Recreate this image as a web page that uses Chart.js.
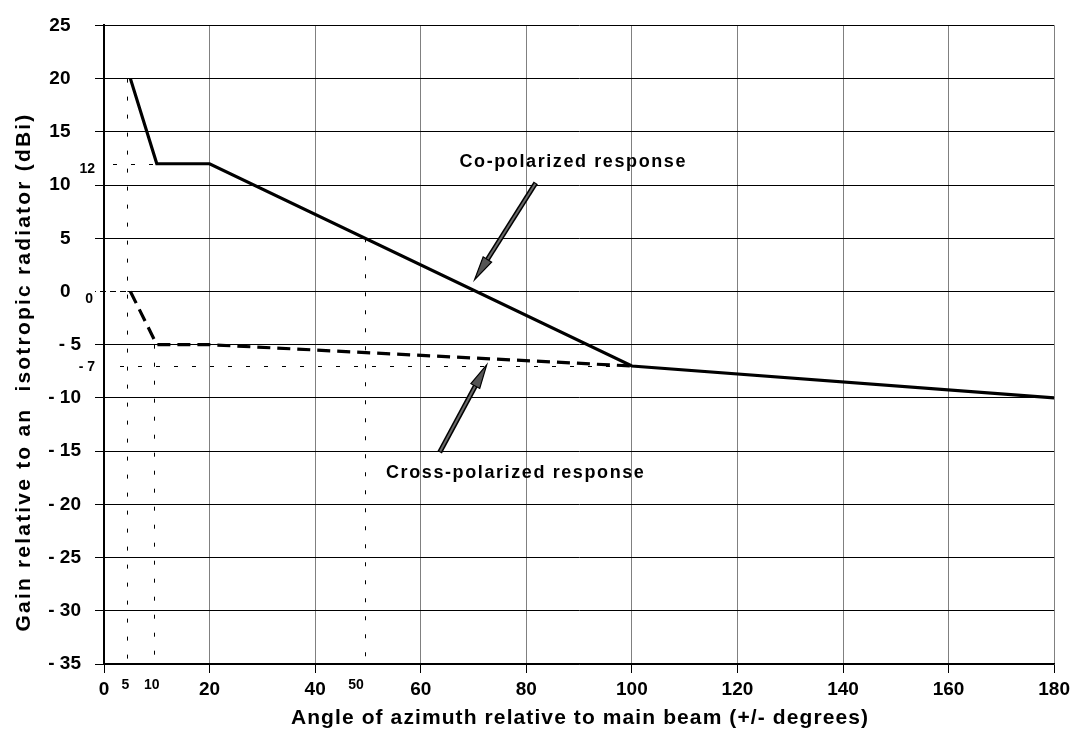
<!DOCTYPE html>
<html>
<head>
<meta charset="utf-8">
<script src="https://cdn.jsdelivr.net/npm/chart.js@4.4.1/dist/chart.umd.min.js"></script>
<style>
html,body{margin:0;padding:0;background:#fff;}
#wrap{width:1075px;height:740px;position:relative;}
</style>
</head>
<body>
<div id="wrap"><canvas id="c" width="1075" height="740"></canvas></div>
<script>
// ---- data ----
const coAngles = [5, 10, 20, 100, 180];
const coGain = [20, 12, 12, -7, -10];
const crossAngles = [5, 10, 20, 100];
const crossGain = [0, -5, -5, -7];
const xTickValues = [0, 20, 40, 60, 80, 100, 120, 140, 160, 180];
const yTickValues = [25, 20, 15, 10, 5, 0, -5, -10, -15, -20, -25, -30, -35];
const refAngleLabels = [5, 10, 50];
const refGainLabels = [12, 0, -7];
const xTitle = 'Angle of azimuth relative to main beam (+/- degrees)';
const yTitle = 'Gain relative to an  isotropic radiator (dBi)';
const coLabel = 'Co-polarized response';
const crossLabel = 'Cross-polarized response';

const FONT = '"Liberation Sans", Arial, sans-serif';

const toPts = (xs, ys) => xs.map((x, i) => ({x: x, y: ys[i]}));

const annot = {
  id: 'annot',
  beforeDatasetsDraw(chart) {
    const ctx = chart.ctx, xs = chart.scales.x, ys = chart.scales.y;
    const X = v => xs.getPixelForValue(v), Y = v => ys.getPixelForValue(v);
    ctx.save();
    ctx.strokeStyle = '#000';
    ctx.lineWidth = 1;
    ctx.setLineDash([4, 14]);
    // vertical reference lines
    const vref = [[5, 20], [10, -5], [50, 5]];
    vref.forEach(([a, g]) => {
      ctx.beginPath();
      ctx.moveTo(Math.round(X(a)) - 2.5, Y(g));
      ctx.lineTo(Math.round(X(a)) - 2.5, Y(-35));
      ctx.stroke();
    });
    // horizontal reference lines
    ctx.beginPath(); ctx.moveTo(X(0) + 9, Math.round(Y(12)) + 0.5); ctx.lineTo(X(10), Math.round(Y(12)) + 0.5); ctx.stroke();
    ctx.beginPath(); ctx.moveTo(X(0) + 16, Math.round(Y(-7)) + 0.5); ctx.lineTo(X(100), Math.round(Y(-7)) + 0.5); ctx.stroke();
    // white dashes on zero line
    ctx.strokeStyle = '#fff';
    ctx.lineWidth = 2;
    ctx.setLineDash([4, 6]);
    ctx.beginPath(); ctx.moveTo(X(0) - 8, Math.round(Y(0)) + 0.5); ctx.lineTo(X(5) - 3, Math.round(Y(0)) + 0.5); ctx.stroke();
    ctx.restore();
  },
  afterDraw(chart) {
    const ctx = chart.ctx, xs = chart.scales.x, ys = chart.scales.y;
    const X = v => xs.getPixelForValue(v), Y = v => ys.getPixelForValue(v);
    const ca = chart.chartArea;
    ctx.save();
    ctx.fillStyle = '#000';
    // small reference labels
    ctx.font = 'bold 14px ' + FONT;
    ctx.textAlign = 'center';
    ctx.textBaseline = 'middle';
    refAngleLabels.forEach(a => {
      ctx.fillText(String(a), X(a) - (a === 50 ? 12 : 5), ca.bottom + 21);
    });
    const yOff = {12: 5, 0: 8, '-7': 1};
    ctx.textAlign = 'right';
    refGainLabels.forEach(g => {
      const t = g < 0 ? '- ' + (-g) : String(g);
      ctx.fillText(t, X(0) - (g === 0 ? 11 : 9), Y(g) + yOff[g]);
    });

    // arrows
    function arrow(x1, y1, x2, y2) {
      const ang = Math.atan2(y2 - y1, x2 - x1);
      const hl = 24, hw = 5;
      const bx = x2 - hl * Math.cos(ang), by = y2 - hl * Math.sin(ang);
      ctx.setLineDash([]);
      ctx.lineCap = 'butt';
      ctx.strokeStyle = '#000';
      ctx.lineWidth = 5;
      ctx.beginPath(); ctx.moveTo(x1, y1); ctx.lineTo(bx, by); ctx.stroke();
      ctx.strokeStyle = '#6a6a6a';
      ctx.lineWidth = 2;
      ctx.beginPath(); ctx.moveTo(x1 + Math.cos(ang), y1 + Math.sin(ang)); ctx.lineTo(bx, by); ctx.stroke();
      const px = -Math.sin(ang), py = Math.cos(ang);
      ctx.beginPath();
      ctx.moveTo(x2, y2);
      ctx.lineTo(bx + px * hw, by + py * hw);
      ctx.lineTo(bx - px * hw, by - py * hw);
      ctx.closePath();
      ctx.fillStyle = '#555';
      ctx.fill();
      ctx.lineWidth = 1.2;
      ctx.strokeStyle = '#000';
      ctx.stroke();
    }
    arrow(X(81.8), Y(10.2), X(70.2), Y(1.1));
    arrow(X(63.6), Y(-15.1), X(72.5), Y(-6.9));

    // response labels
    ctx.fillStyle = '#000';
    ctx.font = 'bold 18px ' + FONT;
    ctx.letterSpacing = '1.6px';
    ctx.textAlign = 'center';
    ctx.textBaseline = 'middle';
    ctx.fillText(coLabel, X(88.9), Y(12.2));
    ctx.fillText(crossLabel, X(78.0), Y(-17.1));

    // axis titles
    ctx.font = 'bold 21px ' + FONT;
    ctx.letterSpacing = '1.1px';
    ctx.fillText(xTitle, 580, 718);
    ctx.save();
    ctx.letterSpacing = '2.2px';
    ctx.translate(24, 372);
    ctx.rotate(-Math.PI / 2);
    ctx.fillText(yTitle, 0, 0);
    ctx.restore();
    ctx.restore();
  }
};

new Chart(document.getElementById('c'), {
  type: 'line',
  data: {
    datasets: [
      {
        label: coLabel,
        data: toPts(coAngles, coGain),
        borderColor: '#000',
        borderWidth: 3.2,
        pointRadius: 0,
        fill: false,
        tension: 0
      },
      {
        label: crossLabel,
        data: toPts(crossAngles, crossGain),
        borderColor: '#000',
        borderWidth: 3.2,
        borderDash: [13, 7],
        pointRadius: 0,
        fill: false,
        tension: 0
      }
    ]
  },
  options: {
    responsive: false,
    animation: false,
    devicePixelRatio: 1,
    layout: {padding: {top: 18, right: 18, left: 0, bottom: 0}},
    plugins: {legend: {display: false}, tooltip: {enabled: false}},
    scales: {
      x: {
        type: 'linear',
        min: 0, max: 180,
        afterBuildTicks: s => { s.ticks = xTickValues.map(v => ({value: v})); },
        afterFit: s => { s.height = 76; },
        grid: {color: '#808080', lineWidth: 1, tickLength: 9, tickColor: '#000'},
        border: {color: '#000', width: 1.5},
        ticks: {
          color: '#000',
          font: {family: FONT, size: 19, weight: 'bold'},
          padding: 5,
          maxRotation: 0,
          autoSkip: false,
          callback: v => String(v)
        }
      },
      y: {
        min: -35, max: 25,
        afterBuildTicks: s => { s.ticks = yTickValues.map(v => ({value: v})); },
        afterFit: s => { s.width = 104; },
        grid: {color: '#000', lineWidth: 1, tickLength: 9, tickColor: '#000'},
        border: {color: '#000', width: 2},
        ticks: {
          color: '#000',
          font: {family: FONT, size: 19, weight: 'bold'},
          padding: 14,
          autoSkip: false,
          callback: v => v < 0 ? '- ' + (-v) : String(v) + '  '
        }
      }
    }
  },
  plugins: [annot]
});
</script>
</body>
</html>
